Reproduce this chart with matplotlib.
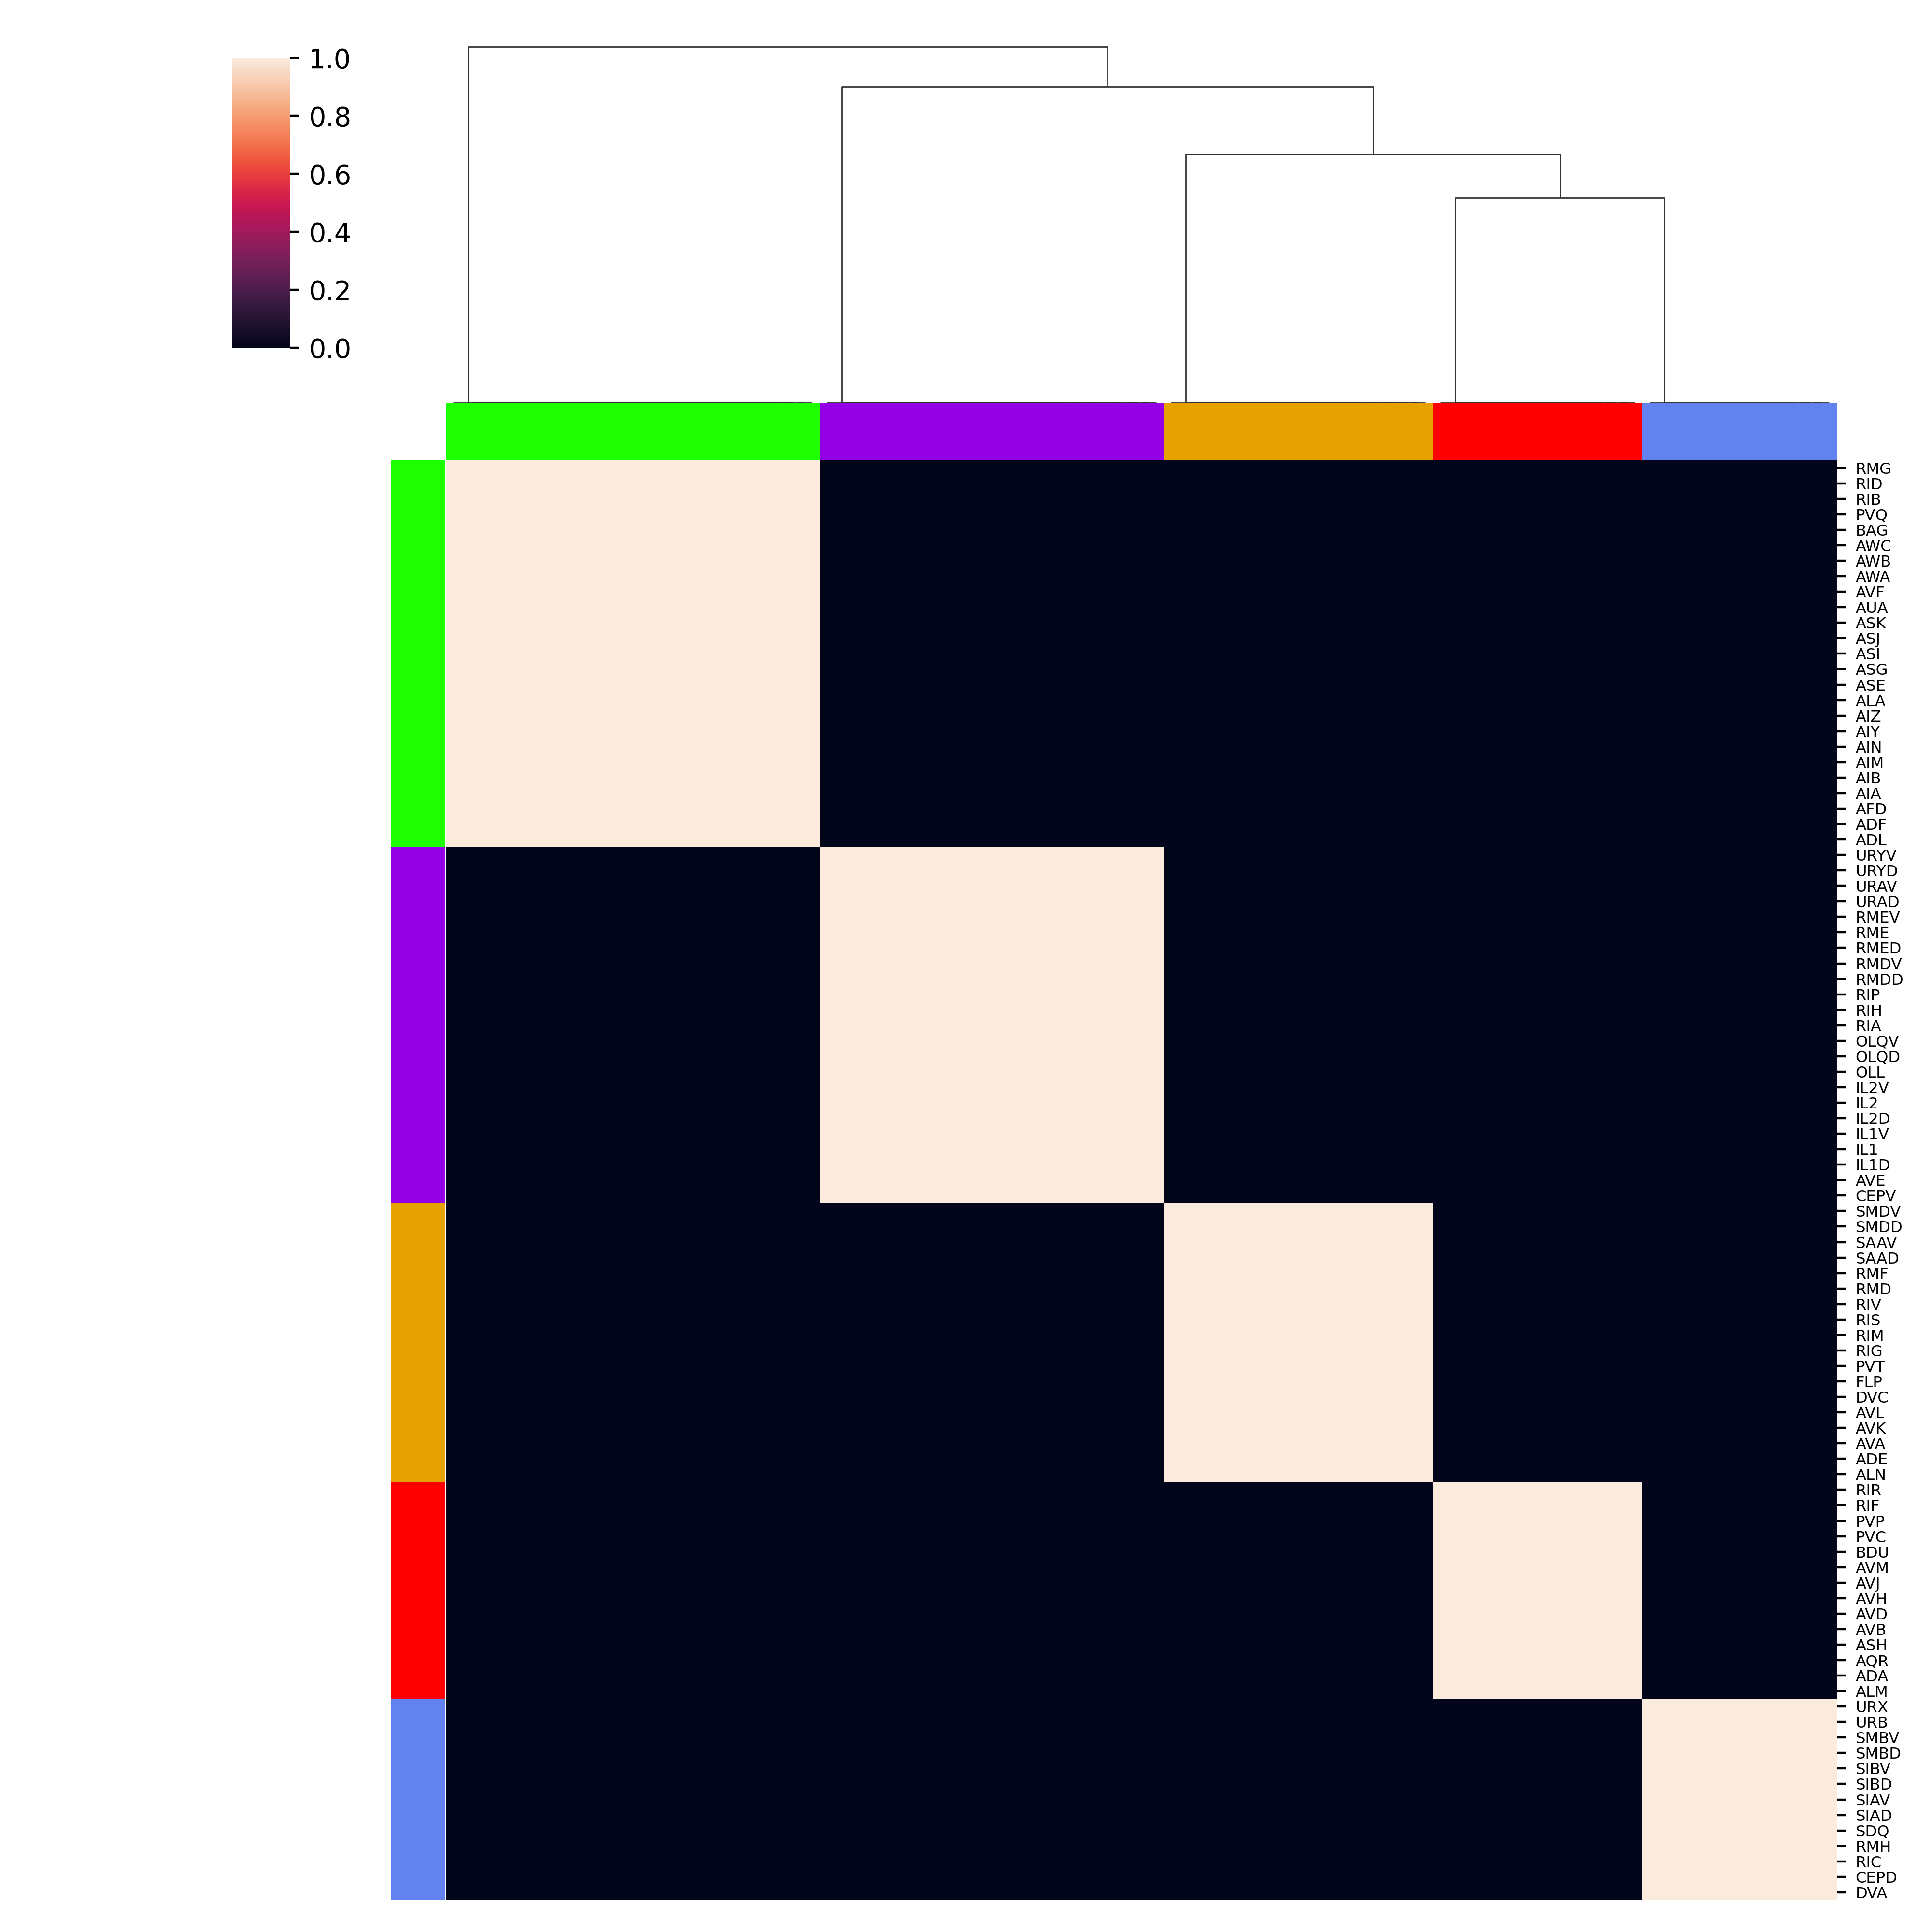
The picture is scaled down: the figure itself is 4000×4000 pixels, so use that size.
import numpy as np
import pandas as pd
import matplotlib
matplotlib.use("Agg")
import matplotlib.pyplot as plt
import seaborn as sns
from scipy.cluster import hierarchy

# neuron names per cluster, in the row order of the picture
green = ["RMG", "RID", "RIB", "PVQ", "BAG", "AWC", "AWB", "AWA", "AVF", "AUA",
         "ASK", "ASJ", "ASI", "ASG", "ASE", "ALA", "AIZ", "AIY", "AIN", "AIM",
         "AIB", "AIA", "AFD", "ADF", "ADL"]
purple = ["URYV", "URYD", "URAV", "URAD", "RMEV", "RME", "RMED", "RMDV", "RMDD",
          "RIP", "RIH", "RIA", "OLQV", "OLQD", "OLL", "IL2V", "IL2", "IL2D",
          "IL1V", "IL1", "IL1D", "AVE", "CEPV"]
orange = ["SMDV", "SMDD", "SAAV", "SAAD", "RMF", "RMD", "RIV", "RIS", "RIM",
          "RIG", "PVT", "FLP", "DVC", "AVL", "AVK", "AVA", "ADE", "ALN"]
red = ["RIR", "RIF", "PVP", "PVC", "BDU", "AVM", "AVJ", "AVH", "AVD", "AVB",
       "ASH", "AQR", "ADA", "ALM"]
blue = ["URX", "URB", "SMBV", "SMBD", "SIBV", "SIBD", "SIAV", "SIAD", "SDQ",
        "RMH", "RIC", "CEPD", "DVA"]

clusters = [green, purple, orange, red, blue]
cluster_colors = ["#1EFF00", "#9400E6", "#E6A200", "#FF0000", "#6282F0"]

names = [n for c in clusters for n in c]
labels = np.array([k for k, c in enumerate(clusters) for _ in c])
colors = [cluster_colors[k] for k in labels]

# co-membership matrix
mat = (labels[:, None] == labels[None, :]).astype(float)
df = pd.DataFrame(mat, index=names, columns=names)
colser = pd.Series(colors, index=names)

# ward linkage on columns; put the child holding the earlier cluster on the left
Z = hierarchy.linkage(mat.T, method="ward")
n = len(names)
first = list(labels)
for i in range(len(Z)):
    a, b = int(Z[i, 0]), int(Z[i, 1])
    if first[b] < first[a]:
        Z[i, 0], Z[i, 1] = b, a
    first.append(min(first[a], first[b]))

g = sns.clustermap(df, row_cluster=False, col_linkage=Z,
                   row_colors=colser, col_colors=colser,
                   xticklabels=False, yticklabels=True,
                   figsize=(10, 10), cbar_pos=(0.12, 0.82, 0.03, 0.15))
g.ax_heatmap.tick_params(axis="y", labelsize=5.8)
g.ax_row_colors.set_xticks([])
g.ax_row_colors.set_yticks([])
g.ax_col_colors.set_xticks([])
g.ax_col_colors.set_yticks([])

# redo the layout with the small labels, then put the colorbar back
g.ax_cbar.set_axis_off()
g.figure.tight_layout(h_pad=.02, w_pad=.02)
g.ax_cbar.set_axis_on()
g.ax_cbar.set_position((0.12, 0.82, 0.03, 0.15))

g.figure.savefig("out.png", dpi=400)
